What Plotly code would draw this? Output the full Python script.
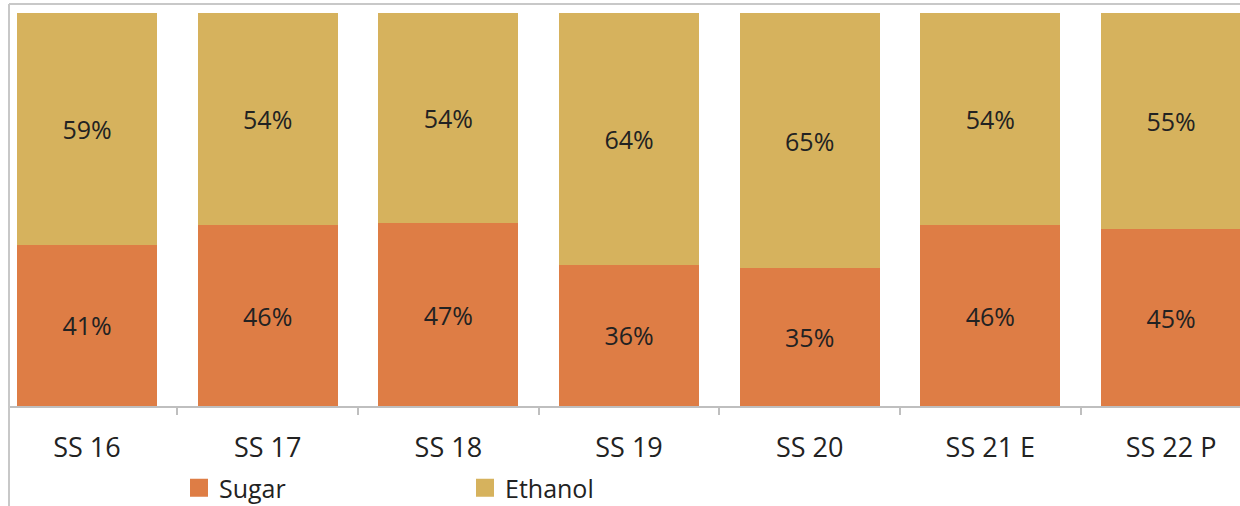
import plotly.graph_objects as go

categories = ["SS 16", "SS 17", "SS 18", "SS 19", "SS 20", "SS 21 E", "SS 22 P"]
sugar = [41, 46, 47, 36, 35, 46, 45]
ethanol = [59, 54, 54, 64, 65, 54, 55]

sugar_color = "#DE7D45"
ethanol_color = "#D6B25D"
text_color = "#222222"
font_family = "Open Sans, Liberation Sans, sans-serif"

W, H = 1240, 506
ml, mt, mb = 9, 13, 100
plot_h = H - mt - mb
plot_w = W - ml

fig = go.Figure()
for name, vals, col in [("Sugar", sugar, sugar_color), ("Ethanol", ethanol, ethanol_color)]:
    fig.add_trace(go.Bar(
        x=categories, y=vals, name=name, marker_color=col, legendgroup=name,
        showlegend=False, marker_line_width=0, text=[f"{v}%" for v in vals],
        textposition="inside", insidetextanchor="middle",
        textfont=dict(size=25, color=text_color, family=font_family),
        hoverinfo="x+text",
    ))
# legend-only entries with larger square keys
for name, col in [("Sugar", sugar_color), ("Ethanol", ethanol_color)]:
    fig.add_trace(go.Scatter(
        x=[None], y=[None], mode="markers", name=name, legendgroup=name,
        marker=dict(symbol="square", size=16, color=col, line=dict(color=col, width=2)),
        showlegend=True,
    ))

spacing = 180.67
x0 = -(87 - ml) / spacing
x1 = x0 + plot_w / spacing

fig.update_layout(
    width=W, height=H,
    barmode="stack", barnorm="percent", bargap=0.225,
    margin=dict(l=ml, r=0, t=mt, b=mb, pad=0, autoexpand=False),
    paper_bgcolor="white", plot_bgcolor="white",
    font=dict(family=font_family, color=text_color, size=25),
    uniformtext=dict(mode="show", minsize=10),
    showlegend=True,
    legend=dict(
        orientation="h", xref="container", x=179 / W, xanchor="left",
        yref="container", y=(H - 488) / H, yanchor="middle",
        entrywidth=241, entrywidthmode="pixels", font=dict(size=25, color=text_color),
        bgcolor="rgba(0,0,0,0)", traceorder="normal", itemsizing="trace",
    ),
    xaxis=dict(
        type="category", range=[x0, x1], showgrid=False, zeroline=False,
        showline=True, linecolor="#BFBFBF", linewidth=2, automargin=False,
        ticks="outside", tickson="boundaries", ticklen=7, tickcolor="#BFBFBF", tickwidth=2,
        tickfont=dict(size=27, color=text_color), ticklabelstandoff=17,
    ),
    yaxis=dict(range=[0, 100], visible=False, showgrid=False, zeroline=False, automargin=False),
    shapes=[
        dict(type="line", xref="paper", yref="paper",
             x0=0, x1=1.0, y0=1 + 9 / plot_h, y1=1 + 9 / plot_h,
             line=dict(color="#C8C8C8", width=2)),
        dict(type="line", xref="paper", yref="paper",
             x0=0, x1=0, y0=1 + 9 / plot_h, y1=-mb / plot_h,
             line=dict(color="#C8C8C8", width=2)),
    ],
)

fig.write_html("out.html")
